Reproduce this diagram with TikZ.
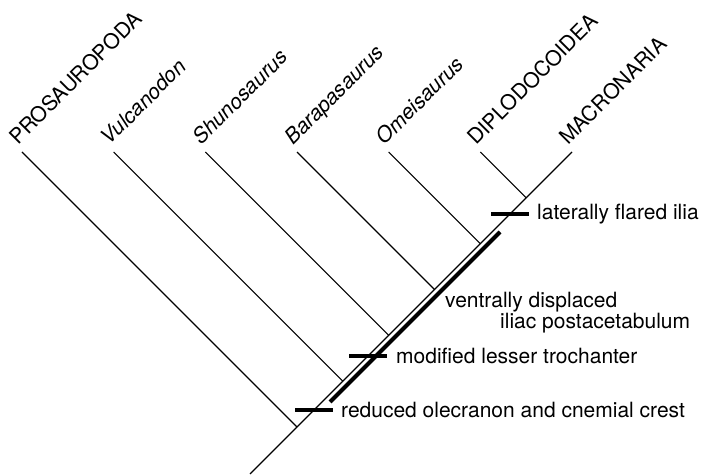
\documentclass[tikz,border=0pt]{standalone}
\usepackage{fontspec}
\setmainfont{TeX Gyre Heros}
\begin{document}
\begin{tikzpicture}[x=1pt,y=1pt,
  branch/.style={line width=1.1pt},
  synapo/.style={line width=4pt},
  taxon/.style={rotate=45, anchor=base west, inner sep=0pt, font=\fontsize{21}{21}\selectfont},
  genus/.style={taxon, font=\fontsize{21}{21}\selectfont\itshape},
  charlabel/.style={anchor=west, inner sep=0pt, font=\fontsize{21}{21}\selectfont, align=left}]
\useasboundingbox (0,0) rectangle (701,474);
% leaves
\coordinate (L0) at (22,322);
\coordinate (L1) at (113.67,322);
\coordinate (L2) at (205.33,322);
\coordinate (L3) at (297,322);
\coordinate (L4) at (388.67,322);
\coordinate (L5) at (480.33,322);
\coordinate (L6) at (572,322);
% junctions
\coordinate (root) at (250,0);
\coordinate (J0) at (297,47);
\coordinate (J1) at (342.83,92.83);
\coordinate (J2) at (388.67,138.67);
\coordinate (J3) at (434.5,184.5);
\coordinate (J4) at (480.33,230.33);
\coordinate (J5) at (526.17,276.17);
% tree
\draw[branch] (root) -- (L6);
\draw[branch] (J0) -- (L0);
\draw[branch] (J1) -- (L1);
\draw[branch] (J2) -- (L2);
\draw[branch] (J3) -- (L3);
\draw[branch] (J4) -- (L4);
\draw[branch] (J5) -- (L5);
% taxon labels
\node[taxon] (t0) at ([shift={(-4,6)}]L0) {PROSAUROPODA};
\node[genus] (t1) at ([shift={(-4,6)}]L1) {Vulcanodon};
\node[genus] (t2) at ([shift={(-4,6)}]L2) {Shunosaurus};
\node[genus] (t3) at ([shift={(-4,6)}]L3) {Barapasaurus};
\node[genus] (t4) at ([shift={(-4,6)}]L4) {Omeisaurus};
\node[taxon] (t5) at ([shift={(-4,6)}]L5) {DIPLODOCOIDEA};
\node[taxon] (t6) at ([shift={(-4,6)}]L6) {MACRONARIA};
% character bars
\coordinate (B1) at (314,64);
\coordinate (B2) at (368,118);
\coordinate (B3) at (510,260);
\draw[synapo] ([xshift=-19]B1) -- ([xshift=19]B1);
\draw[synapo] ([xshift=-19]B2) -- ([xshift=19]B2);
\draw[synapo] ([xshift=-19]B3) -- ([xshift=19]B3);
\coordinate (T0) at (330,72);
\coordinate (T1) at (500,242);
\draw[synapo] (T0) -- (T1);
% character labels
\node[charlabel] (c1) at ([xshift=27]B1) {reduced olecranon and cnemial crest};
\node[charlabel] (c2) at ([xshift=28]B2) {modified lesser trochanter};
\node[charlabel] (c3) at ([xshift=27]B3) {laterally flared ilia};
\node[charlabel] (c4) at (445,161.8) {ventrally displaced\\\hspace*{55pt}iliac postacetabulum};
\end{tikzpicture}
\end{document}
